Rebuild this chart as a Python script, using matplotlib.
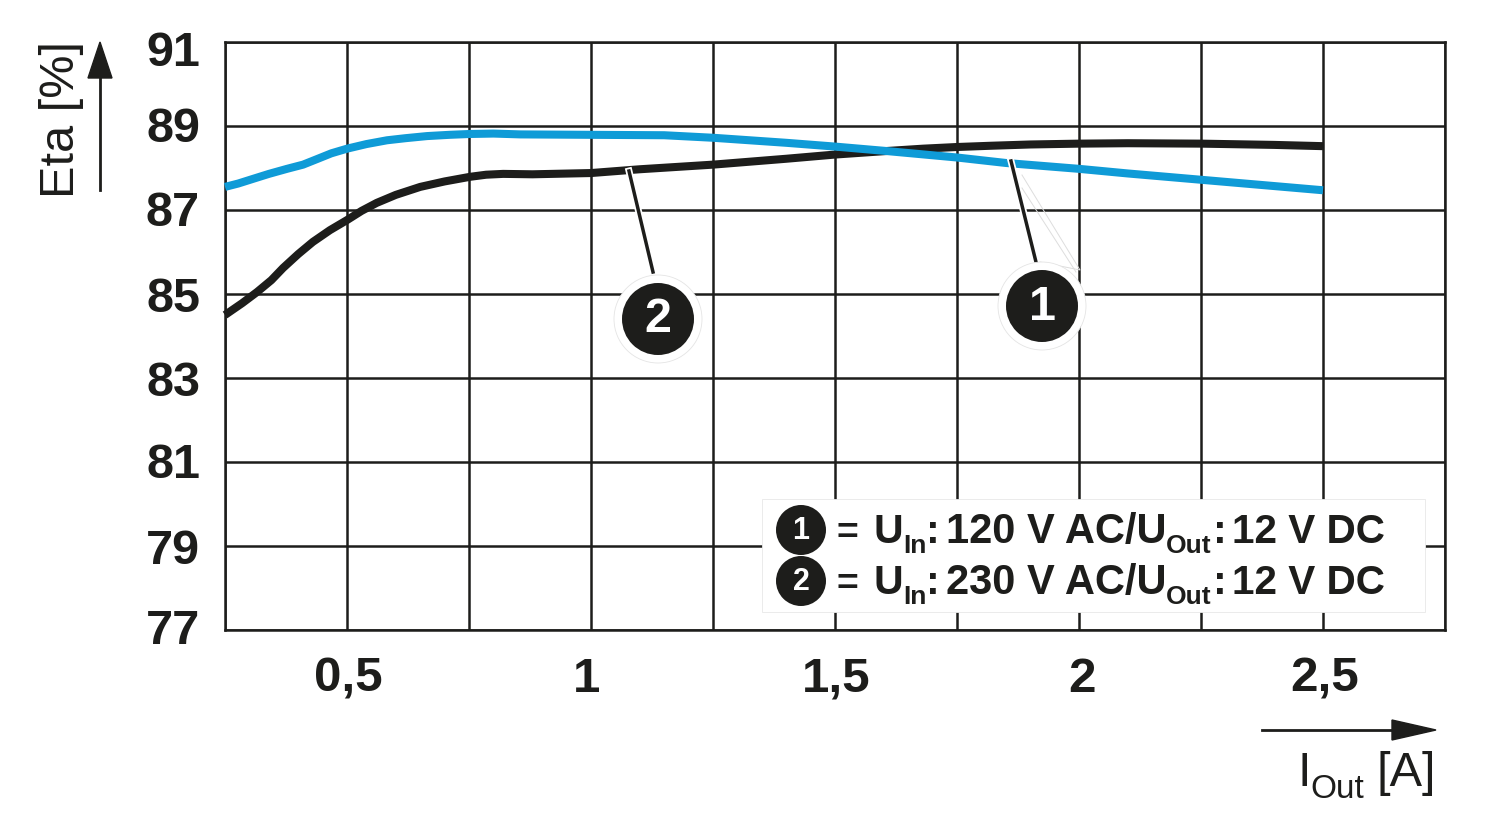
import matplotlib
matplotlib.use("Agg")
import matplotlib.pyplot as plt
from matplotlib.patches import Rectangle, Circle, Polygon

plt.rcParams['font.family'] = ['Liberation Sans', 'DejaVu Sans']

x_ticks = [0.25, 0.5, 0.75, 1.0, 1.25, 1.5, 1.75, 2.0, 2.25, 2.5, 2.75]
x_labels = ['0,5', '1', '1,5', '2', '2,5']
y_ticks = [77, 79, 81, 83, 85, 87, 89, 91]

x_black = [0.25, 0.285, 0.316, 0.345, 0.369, 0.40, 0.43, 0.465, 0.50, 0.53, 0.561, 0.60, 0.65, 0.70, 0.752, 0.785, 0.82, 0.88, 1.0, 1.1, 1.25, 1.4, 1.5, 1.6, 1.68, 1.75, 1.82, 1.9, 2.0, 2.1, 2.25, 2.4, 2.5]
y_black = [84.5, 84.78, 85.05, 85.33, 85.62, 85.95, 86.24, 86.52, 86.76, 86.98, 87.17, 87.36, 87.55, 87.68, 87.79, 87.84, 87.86, 87.85, 87.88, 87.97, 88.08, 88.22, 88.32, 88.4, 88.46, 88.5, 88.53, 88.56, 88.58, 88.59, 88.58, 88.55, 88.52]
x_blue = [0.25, 0.277, 0.307, 0.34, 0.377, 0.41, 0.438, 0.468, 0.50, 0.54, 0.582, 0.62, 0.664, 0.71, 0.752, 0.80, 0.855, 1.0, 1.15, 1.25, 1.4, 1.5, 1.6, 1.75, 1.85, 2.0, 2.1, 2.25, 2.4, 2.5]
y_blue = [87.55, 87.63, 87.74, 87.86, 87.98, 88.08, 88.21, 88.35, 88.46, 88.57, 88.66, 88.71, 88.76, 88.79, 88.81, 88.82, 88.8, 88.79, 88.78, 88.72, 88.6, 88.51, 88.41, 88.25, 88.12, 87.98, 87.87, 87.72, 87.57, 87.47]

legend_rows = [('1', '120'), ('2', '230')]

fig = plt.figure(figsize=(15, 8.25), dpi=100)
ax = fig.add_axes([225/1500, 1-630/825, (1445-225)/1500, (630-42)/825])
ax.set_xlim(0.25, 2.75)
ax.set_ylim(77, 91)
ax.set_xticks(x_ticks)
ax.set_yticks(y_ticks)
ax.set_xticklabels([])
ax.set_yticklabels([])
ax.tick_params(length=0)
ax.grid(True, color='#1d1d1b', lw=1.8)
ax.set_axisbelow(True)
for s in ax.spines.values():
    s.set_linewidth(1.8)
    s.set_color('#1d1d1b')

ax.plot(x_black, y_black, color='#1d1d1b', lw=5.8, zorder=3, solid_capstyle='butt', solid_joinstyle='round', clip_on=False)
ax.plot(x_blue, y_blue, color='#0f9bd7', lw=5.8, zorder=4, solid_capstyle='butt', solid_joinstyle='round', clip_on=False)

ov = fig.add_axes([0, 0, 1, 1], zorder=5)
ov.set_xlim(0, 1500)
ov.set_ylim(825, 0)
ov.axis('off')
ov.patch.set_alpha(0)
DK = '#1d1d1b'
F = dict(color=DK, fontweight='bold', va='center')

y_pos = [(91, 53), (89, 130), (87, 214), (85, 299), (83, 383), (81, 466), (79, 551), (77, 631)]
for v, py in y_pos:
    ov.text(200, py, str(v), ha='right', fontsize=35, **F)
for lab, px in zip(x_labels, [348, 587, 836, 1082, 1325]):
    ov.text(px, 679, lab, ha='center', fontsize=35.5, **F)

ov.text(61, 120, 'Eta [%]', rotation=90, ha='center', va='center', fontsize=35, color=DK)
ov.plot([100, 100], [190, 75], color=DK, lw=2)
ov.add_patch(Polygon([[88, 78], [112, 78], [100, 42]], color=DK))
ov.plot([1262, 1400], [730, 730], color=DK, lw=2)
ov.add_patch(Polygon([[1392, 720], [1392, 740], [1436, 730]], color=DK))
ov.text(1298, 773, 'I', ha='left', va='center', fontsize=35, color=DK)
ov.text(1310, 789, 'Out', ha='left', va='center', fontsize=24, color=DK)
ov.text(1436, 773, '[A]', ha='right', va='center', fontsize=35, color=DK)

def badge(cx, cy, r, label, fs, halo=True):
    if halo:
        ov.add_patch(Circle((cx, cy), r + 8, fc='white', ec='#e4e4e4', lw=0.6, zorder=6))
    ov.add_patch(Circle((cx, cy), r, fc=DK, ec='none', zorder=7))
    ov.text(cx, cy + 1, label, color='white', fontweight='bold', fontsize=fs, ha='center', va='center', zorder=8)

ov.plot([629, 653], [171, 272], color='white', lw=5, zorder=5)
ov.plot([629, 653], [171, 272], color=DK, lw=2.5, zorder=5.5)
ov.plot([1011, 1036], [161, 262], color='white', lw=5, zorder=5)
ov.plot([1011, 1036], [161, 262], color=DK, lw=2.5, zorder=5.5)
ov.plot([1022, 1080, 1040], [175, 270, 262], color='#dddddd', lw=0.7, zorder=5)
ov.plot([1022, 1076], [188, 272], color='#dddddd', lw=0.7, zorder=5)
badge(658, 319, 36, '2', 35)
badge(1042, 306, 36, '1', 35)

ov.add_patch(Rectangle((762, 499), 663, 113, fc='white', ec='#e8e8e8', lw=0.6, zorder=6))
for (n, volt), py in zip(legend_rows, [530, 581]):
    badge(801, py, 25, n, 22, halo=False)
    ov.text(837, py + 4, '=', fontsize=27, zorder=8, ha='left', **F)
    ov.text(874, py + 2, 'U', fontsize=29.5, zorder=8, ha='left', **F)
    ov.text(903, py + 16, 'In', fontsize=19, zorder=8, ha='left', **F)
    ov.text(926, py + 2, ':', fontsize=29.5, zorder=8, ha='left', **F)
    ov.text(946, py + 2, f'{volt} V AC/U', fontsize=30, zorder=8, ha='left', **F)
    ov.text(1166, py + 16, 'Out', fontsize=19, zorder=8, ha='left', **F)
    ov.text(1213, py + 2, ':', fontsize=29.5, zorder=8, ha='left', **F)
    ov.text(1232, py + 2, '12 V DC', fontsize=29.2, zorder=8, ha='left', **F)

fig.savefig('out.png', dpi=100)
